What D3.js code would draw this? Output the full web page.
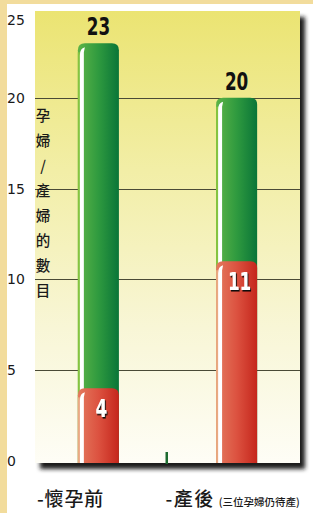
<!DOCTYPE html>
<html><head><meta charset="utf-8">
<script src="https://cdn.jsdelivr.net/npm/d3@7"></script>
<style>
html,body{margin:0;padding:0;background:#fff;}
svg{display:block;}
</style></head>
<body>
<svg id="chart" width="313" height="513"></svg>
<script>
// ---- data ----
const categories = ["懷孕前", "產後"];
const totalCounts = [23, 20];     // green bars
const subsetCounts = [4, 11];     // red bars
const yTicks = [0, 5, 10, 15, 20, 25];
const gridTicks = [5, 10, 15, 20];
const xLabels = ["-懷孕前", "-產後"];
const xNote = "(三位孕婦仍待產)";
const yTitle = "孕婦/產婦的數目";

const svg = d3.select("#chart");
const W = 313, H = 513;
const panel = {x0: 35, x1: 300, y0: 11, y1: 463};

const defs = svg.append("defs");
const bg = defs.append("linearGradient").attr("id","panelGrad").attr("x1",0).attr("y1",0).attr("x2",0).attr("y2",1);
[[0,"#ebe472"],[0.35,"#f2eea6"],[0.7,"#f8f6d6"],[1,"#fefdf6"]].forEach(s=>bg.append("stop").attr("offset",s[0]).attr("stop-color",s[1]));
const gg = defs.append("linearGradient").attr("id","greenGrad").attr("x1",0).attr("y1",0).attr("x2",1).attr("y2",0);
[[0,"#5db447"],[0.5,"#2f9a3f"],[1,"#0a7538"]].forEach(s=>gg.append("stop").attr("offset",s[0]).attr("stop-color",s[1]));
const rg = defs.append("linearGradient").attr("id","redGrad").attr("x1",0).attr("y1",0).attr("x2",1).attr("y2",0);
[[0,"#e47a5e"],[0.5,"#dc5240"],[1,"#c5261c"]].forEach(s=>rg.append("stop").attr("offset",s[0]).attr("stop-color",s[1]));
const blur = defs.append("filter").attr("id","blur").attr("x","-10%").attr("y","-10%").attr("width","130%").attr("height","130%");
blur.append("feGaussianBlur").attr("stdDeviation",2.2);
const tshadow = defs.append("filter").attr("id","tshadow").attr("x","-30%").attr("y","-30%").attr("width","160%").attr("height","160%");
tshadow.append("feDropShadow").attr("dx",1.5).attr("dy",1.5).attr("stdDeviation",0).attr("flood-color","#111").attr("flood-opacity",1);

// parchment border
svg.append("rect").attr("width",W).attr("height",H).attr("fill","#f2dc9c");
svg.append("rect").attr("x",7).attr("y",4).attr("width",W-7).attr("height",H-4).attr("fill","#ffffff");

// scales
const x = d3.scaleBand().domain(categories).range([panel.x0, panel.x1]).paddingInner(0.703).paddingOuter(0.31);
const y = d3.scaleLinear().domain([0, 25]).range([461, 7]);

// panel shadow + panel
svg.append("rect").attr("x",panel.x0+5).attr("y",panel.y0+6).attr("width",panel.x1-panel.x0).attr("height",panel.y1-panel.y0)
  .attr("fill","#1a1a1a").attr("filter","url(#blur)");
svg.append("rect").attr("x",panel.x0).attr("y",panel.y0).attr("width",panel.x1-panel.x0).attr("height",panel.y1-panel.y0)
  .attr("fill","url(#panelGrad)");

// grid lines
svg.append("g").selectAll("line").data(gridTicks).join("line")
  .attr("x1",panel.x0).attr("x2",panel.x1)
  .attr("y1",d=>Math.round(y(d))+0.5).attr("y2",d=>Math.round(y(d))+0.5)
  .attr("stroke","#4a4a36").attr("stroke-width",1.2);

// y tick labels
svg.append("g").selectAll("text").data(yTicks).join("text")
  .attr("x",7).attr("y",d=>Math.max(y(d),20)).attr("dy","0.36em")
  .attr("font-family","DejaVu Sans, sans-serif").attr("font-size",14).attr("fill","#1a1a1a")
  .text(d=>d);

// y title, stacked vertically
const chars = Array.from(yTitle);
svg.append("g").selectAll("text").data(chars).join("text")
  .attr("x",43).attr("y",(d,i)=>121+i*25).attr("text-anchor","middle")
  .attr("font-family","Noto Sans CJK TC, sans-serif").attr("font-size",14.5).attr("font-weight",500).attr("fill","#1a1a1a")
  .text(d=>d);

function barPath(x0, w, yTop, yBot, r){
  return `M${x0},${yBot} L${x0},${yTop+r} Q${x0},${yTop} ${x0+r},${yTop} L${x0+w-r},${yTop} Q${x0+w},${yTop} ${x0+w},${yTop+r} L${x0+w},${yBot} Z`;
}
function drawBar(g, cat, val, fill, stripe){
  const x0 = x(cat), w = x.bandwidth(), yTop = y(val), yBot = y(0)+2;
  g.append("path").attr("d", barPath(x0, w, yTop, yBot, 7)).attr("fill", fill);
  g.append("rect").attr("x",x0).attr("y",yTop+9).attr("width",2).attr("height",yBot-yTop-9).attr("fill",stripe);
  g.append("path").attr("d", `M${x0+2},${yBot} L${x0+2},${yTop+12} Q${x0+2},${yTop+5} ${x0+7},${yTop+4} L${x0+6},${yTop+9} L${x0+6},${yBot} Z`).attr("fill","#ffffff");
}
const bars = svg.append("g");
categories.forEach((c,i)=>{
  const g = bars.append("g");
  drawBar(g, c, totalCounts[i], "url(#greenGrad)", "#86c440");
  drawBar(g, c, subsetCounts[i], "url(#redGrad)", "#e9aa82");
});

const numFont = "DejaVu Sans, sans-serif";
const sx = 0.7;
// totals above bars
svg.append("g").selectAll("text").data(categories).join("text")
  .attr("transform",(d,i)=>`translate(${x(d)+x.bandwidth()/2},${y(totalCounts[i])-8}) scale(${sx},1)`)
  .attr("text-anchor","middle").attr("font-family",numFont).attr("font-weight","bold")
  .attr("font-size",24).attr("fill","#111").text((d,i)=>totalCounts[i]);
// subset numbers inside red (white with dark shadow)
svg.append("g").selectAll("text").data(categories).join("text")
  .attr("transform",(d,i)=>`translate(${x(d)+x.bandwidth()/2+3},${y(subsetCounts[i])+29}) scale(${sx},1)`)
  .attr("text-anchor","middle").attr("font-family",numFont).attr("font-weight","bold")
  .attr("font-size",24).attr("fill","#fff").attr("filter","url(#tshadow)").text((d,i)=>subsetCounts[i]);

// small green tick between categories
const midX = (x(categories[0])+x(categories[1])+x.bandwidth())/2;
svg.append("rect").attr("x",midX-2).attr("y",y(0)-9).attr("width",2.5).attr("height",12).attr("fill","#1d6b30");

// x labels
const cjk = "Noto Sans CJK TC, sans-serif";
svg.append("text").attr("x",panel.x0+2).attr("y",506).attr("font-family",cjk).attr("font-size",19).attr("font-weight",500)
  .attr("fill","#1a1a1a").attr("letter-spacing",0.8).text(xLabels[0]);
const t2 = svg.append("text").attr("x",midX-2).attr("y",506).attr("font-family",cjk).attr("font-weight",500).attr("fill","#1a1a1a");
t2.append("tspan").attr("font-size",19).attr("letter-spacing",1.5).text(xLabels[1]);
t2.append("tspan").attr("font-size",10.5).attr("dx",4).text(xNote);
</script>
</body></html>
